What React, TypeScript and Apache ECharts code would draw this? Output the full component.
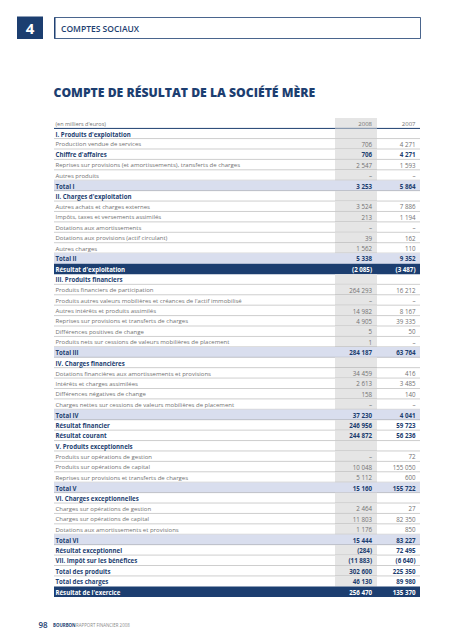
import React, { useEffect, useRef } from "react";
import * as echarts from "echarts";

// ---- data ----
const unitLabel = "(en milliers d'euros)";
const columnYears = ["2008", "2007"];

const rowLabels = [
  "I. Produits d'exploitation",
  "Production vendue de services",
  "Chiffre d'affaires",
  "Reprises sur provisions (et amortissements), transferts de charges",
  "Autres produits",
  "Total I",
  "II. Charges d'exploitation",
  "Autres achats et charges externes",
  "Impôts, taxes et versements assimilés",
  "Dotations aux amortissements",
  "Dotations aux provisions (actif circulant)",
  "Autres charges",
  "Total II",
  "Résultat d'exploitation",
  "III. Produits financiers",
  "Produits financiers de participation",
  "Produits autres valeurs mobilières et créances de l'actif immobilisé",
  "Autres intérêts et produits assimilés",
  "Reprises sur provisions et transferts de charges",
  "Différences positives de change",
  "Produits nets sur cessions de valeurs mobilières de placement",
  "Total III",
  "IV. Charges financières",
  "Dotations financières aux amortissements et provisions",
  "Intérêts et charges assimilées",
  "Différences négatives de change",
  "Charges nettes sur cessions de valeurs mobilières de placement",
  "Total IV",
  "Résultat financier",
  "Résultat courant",
  "V. Produits exceptionnels",
  "Produits sur opérations de gestion",
  "Produits sur opérations de capital",
  "Reprises sur provisions et transferts de charges",
  "Total V",
  "VI. Charges exceptionnelles",
  "Charges sur opérations de gestion",
  "Charges sur opérations de capital",
  "Dotations aux amortissements et provisions",
  "Total VI",
  "Résultat exceptionnel",
  "VII. Impôt sur les bénéfices",
  "Total des produits",
  "Total des charges",
  "Résultat de l'exercice",
];

// s = section heading, i = item, b = bold line, t = total, r = result (dark)
const rowKinds = [
  "s", "i", "b", "i", "i", "t",
  "s", "i", "i", "i", "i", "i", "t", "r",
  "s", "i", "i", "i", "i", "i", "i", "t",
  "s", "i", "i", "i", "i", "t", "b", "b",
  "s", "i", "i", "i", "t",
  "s", "i", "i", "i", "t", "b", "b", "b", "b", "r",
];

const values2008: (number | null)[] = [
  null, 706, 706, 2547, null, 3253,
  null, 3524, 213, null, 39, 1562, 5338, -2085,
  null, 264293, null, 14982, 4905, 5, 1, 284187,
  null, 34459, 2613, 158, null, 37230, 246956, 244872,
  null, null, 10048, 5112, 15160,
  null, 2464, 11803, 1176, 15444, -284, -11883, 302600, 46130, 256470,
];

const values2007: (number | null)[] = [
  null, 4271, 4271, 1593, null, 5864,
  null, 7886, 1194, null, 162, 110, 9352, -3487,
  null, 16212, null, 8167, 39335, 50, null, 63764,
  null, 416, 3485, 140, null, 4041, 59723, 56236,
  null, 72, 155050, 600, 155722,
  null, 27, 82350, 850, 83227, 72495, -6640, 225350, 89980, 135370,
];

// ---- styles ----
const NAVY = "#1c3e70";
const GREY_TEXT = "#727272";
const TOTAL_BG = "#d9deee";
const BAND = "#e5e5e5";
const LINE = "#9c9c9c";
const FONT = "'Open Sans', 'Noto Sans', sans-serif";

function fmtNum(v: number | null): string {
  if (v === null) return "–";
  const abs = Math.abs(v);
  const s = String(abs).replace(/\B(?=(\d{3})+(?!\d))/g, " ");
  return v < 0 ? "(" + s + ")" : s;
}

export default function App() {
  const ref = useRef<HTMLDivElement>(null);

  useEffect(() => {
    if (!ref.current) return;
    const chart = echarts.init(ref.current, undefined, { renderer: "svg" });

    const categories = [unitLabel, ...rowLabels];
    const kinds = ["h", ...rowKinds];
    const v08 = [null, ...values2008];
    const v07 = [null, ...values2007];

    const renderItem = (params: any, api: any) => {
      const idx = api.value(0) as number;
      const cs = params.coordSys;
      const cy = api.coord([0, idx])[1];
      const h = api.size([0, 1])[1];
      const top = cy - h / 2;
      const x0 = cs.x;
      const x1 = cs.x + cs.width;
      const bandL = x0 + 281;
      const bandR = x0 + 323;
      const col08 = x0 + 318;
      const col07 = x1 - 4.5;
      const kind = kinds[idx];
      const children: any[] = [];

      if (kind === "t" || kind === "r") {
        children.push({
          type: "rect",
          shape: { x: x0, y: top, width: x1 - x0, height: h },
          style: { fill: kind === "t" ? TOTAL_BG : NAVY },
        });
      } else {
        children.push({
          type: "rect",
          shape: { x: bandL, y: top, width: bandR - bandL, height: h },
          style: { fill: BAND },
        });
      }

      if (kind === "h") {
        children.push({
          type: "line",
          shape: { x1: x0, y1: top + h, x2: x1, y2: top + h },
          style: { stroke: NAVY, lineWidth: 1 },
        });
      } else if (kind !== "r" && idx < categories.length - 1 && kinds[idx + 1] !== "r") {
        children.push({
          type: "line",
          shape: { x1: x0, y1: top + h - 0.25, x2: x1, y2: top + h - 0.25 },
          style: { stroke: LINE, lineWidth: 0.5 },
        });
      }

      const bold = kind !== "i" && kind !== "h";
      const labelColor = kind === "r" ? "#ffffff" : bold ? NAVY : GREY_TEXT;
      children.push({
        type: "text",
        style: {
          x: x0 + 1.5,
          y: cy + 0.4,
          text: categories[idx],
          fill: labelColor,
          font: `${bold ? "bold 6.1px" : kind === "h" ? "5.5px" : "6px"} ${FONT}`,
          align: "left",
          verticalAlign: "middle",
        },
      });

      if (kind === "h") {
        [columnYears[0], columnYears[1]].forEach((t, k) => {
          children.push({
            type: "text",
            style: {
              x: k === 0 ? col08 : col07,
              y: cy + 0.4,
              text: t,
              fill: GREY_TEXT,
              font: `6px ${FONT}`,
              align: "right",
              verticalAlign: "middle",
            },
          });
        });
      } else if (kind !== "s") {
        const vals = [v08[idx], v07[idx]];
        const isBoldVal = kind !== "i";
        vals.forEach((v, k) => {
          children.push({
            type: "text",
            style: {
              x: k === 0 ? col08 : col07,
              y: cy + 0.4,
              text: fmtNum(v as number | null),
              fill: kind === "r" ? "#ffffff" : isBoldVal ? NAVY : GREY_TEXT,
              font: `${isBoldVal ? "bold 6.2px" : "6.2px"} ${FONT}`,
              align: "right",
              verticalAlign: "middle",
            },
          });
        });
      }

      return { type: "group", children };
    };

    chart.setOption({
      animation: false,
      grid: { left: 54, right: 33, top: 118, bottom: 43 },
      xAxis: { type: "value", min: 0, max: 1, show: false },
      yAxis: {
        type: "category",
        data: categories,
        inverse: true,
        show: false,
      },
      series: [
        {
          type: "custom",
          renderItem,
          clip: false,
          data: categories.map((_, i) => [i]),
          encode: { y: 0 },
        },
      ],
      graphic: [
        {
          type: "rect",
          shape: { x: 17, y: 16.5, width: 26, height: 22.5 },
          style: { fill: NAVY },
        },
        {
          type: "text",
          style: {
            x: 30,
            y: 28,
            text: "4",
            fill: "#ffffff",
            font: `bold 15px ${FONT}`,
            align: "center",
            verticalAlign: "middle",
          },
        },
        {
          type: "rect",
          shape: { x: 54.5, y: 17.5, width: 366, height: 21 },
          style: { fill: "none", stroke: NAVY, lineWidth: 0.8 },
        },
        {
          type: "line",
          shape: { x1: 54.8, y1: 17.5, x2: 54.8, y2: 38.5 },
          style: { stroke: NAVY, lineWidth: 1.4 },
        },
        {
          type: "text",
          style: {
            x: 61,
            y: 28.5,
            text: "COMPTES SOCIAUX",
            fill: NAVY,
            font: `600 8.5px ${FONT}`,
            align: "left",
            verticalAlign: "middle",
          },
        },
        {
          type: "text",
          style: {
            x: 53.5,
            y: 92.5,
            text: "COMPTE DE RÉSULTAT DE LA SOCIÉTÉ MÈRE",
            fill: NAVY,
            font: `800 12.2px ${FONT}`,
            align: "left",
            verticalAlign: "middle",
          },
        },
        {
          type: "text",
          style: {
            x: 38.5,
            y: 624.5,
            text: "98",
            fill: NAVY,
            font: `600 8px ${FONT}`,
            align: "left",
            verticalAlign: "middle",
          },
        },
        {
          type: "text",
          style: {
            x: 53,
            y: 624.5,
            text: "BOURBON",
            fill: NAVY,
            font: `bold 4.4px ${FONT}`,
            align: "left",
            verticalAlign: "middle",
          },
        },
        {
          type: "text",
          style: {
            x: 76,
            y: 624.5,
            text: "RAPPORT FINANCIER 2008",
            fill: "#8a8a8a",
            font: `4.4px ${FONT}`,
            align: "left",
            verticalAlign: "middle",
          },
        },
      ],
    });

    return () => chart.dispose();
  }, []);

  return (
    <div
      ref={ref}
      style={{ position: "fixed", left: 0, top: 0, width: 453, height: 640, background: "#ffffff" }}
    />
  );
}
